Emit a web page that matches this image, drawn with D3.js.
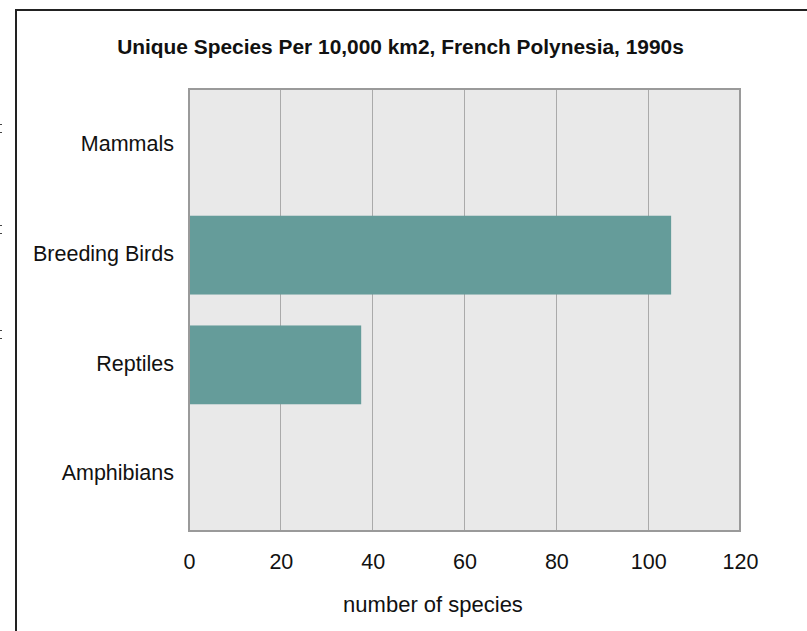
<!DOCTYPE html>
<html>
<head>
<meta charset="utf-8">
<script src="https://cdn.jsdelivr.net/npm/d3@7"></script>
<style>
  body { margin: 0; background: #fff; }
  text { font-family: "Liberation Sans", Arial, sans-serif; fill: #111; }
</style>
</head>
<body>
<div id="chart"></div>
<script>
// Chart values.
const categories = ["Mammals", "Breeding Birds", "Reptiles", "Amphibians"];
const values = [0, 105, 37.5, 0];
const xTicks = [0, 20, 40, 60, 80, 100, 120];
const title = "Unique Species Per 10,000 km2, French Polynesia, 1990s";
const xTitle = "number of species";

// Dimensions of chart.
const W = 807, H = 631;
const plot = { left: 189, right: 740, top: 89, bottom: 531 };
const fontSize = 21.5;

const svg = d3.select("#chart").append("svg")
  .attr("width", W)
  .attr("height", H);

// Stray marks at the left edge (cropped remains of a neighbouring figure).
svg.append("g")
  .selectAll("rect")
  .data([124, 132, 225, 233, 330, 338])
  .join("rect")
  .attr("x", 0).attr("y", d => d)
  .attr("width", 2).attr("height", 1)
  .attr("fill", "#444");

// Outer frame (runs off the right and bottom edge).
svg.append("rect")
  .attr("x", 16).attr("y", 10)
  .attr("width", W + 20).attr("height", H + 20)
  .attr("fill", "none")
  .attr("stroke", "#222")
  .attr("stroke-width", 2);

const x = d3.scaleLinear().domain([0, 120]).range([plot.left, plot.right]);
const y = d3.scaleBand().domain(categories).range([plot.top, plot.bottom])
  .paddingInner(0.282).paddingOuter(0.155);

// Plot background
svg.append("rect")
  .attr("x", plot.left).attr("y", plot.top)
  .attr("width", plot.right - plot.left).attr("height", plot.bottom - plot.top)
  .attr("fill", "#e9e9e9");

// Grid lines
svg.append("g")
  .selectAll("line")
  .data(xTicks.slice(1, -1))
  .join("line")
  .attr("x1", d => x(d)).attr("x2", d => x(d))
  .attr("y1", plot.top).attr("y2", plot.bottom)
  .attr("stroke", "#aaa")
  .attr("stroke-width", 1)
  .attr("shape-rendering", "crispEdges");

// Bars
svg.append("g")
  .selectAll("rect")
  .data(categories.map((c, i) => ({ c, v: values[i] })))
  .join("rect")
  .attr("x", x(0))
  .attr("y", d => y(d.c))
  .attr("width", d => x(d.v) - x(0))
  .attr("height", y.bandwidth())
  .attr("fill", "#659c9a");

// Plot frame
svg.append("rect")
  .attr("x", plot.left).attr("y", plot.top)
  .attr("width", plot.right - plot.left).attr("height", plot.bottom - plot.top)
  .attr("fill", "none")
  .attr("stroke", "#9a9a9a")
  .attr("stroke-width", 2);

// Category labels
svg.append("g")
  .selectAll("text")
  .data(categories)
  .join("text")
  .attr("x", 174)
  .attr("y", d => y(d) + y.bandwidth() / 2)
  .attr("dy", "0.27em")
  .attr("text-anchor", "end")
  .style("font-size", fontSize + "px")
  .text(d => d);

// X axis tick labels
const xAxis = svg.append("g")
  .attr("transform", `translate(0,${plot.bottom})`)
  .call(d3.axisBottom(x).tickValues(xTicks).tickSize(0).tickPadding(23));
xAxis.select(".domain").remove();
xAxis.selectAll("text")
  .style("font-family", "Liberation Sans, Arial, sans-serif")
  .style("font-size", fontSize + "px")
  .attr("fill", "#111");

// Axis title
svg.append("text")
  .attr("x", 433).attr("y", 612)
  .attr("text-anchor", "middle")
  .style("font-size", "22px")
  .text(xTitle);

// Chart title
svg.append("text")
  .attr("x", 400.5).attr("y", 54)
  .attr("text-anchor", "middle")
  .style("font-size", "20.9px")
  .style("font-weight", "bold")
  .text(title);
</script>
</body>
</html>
